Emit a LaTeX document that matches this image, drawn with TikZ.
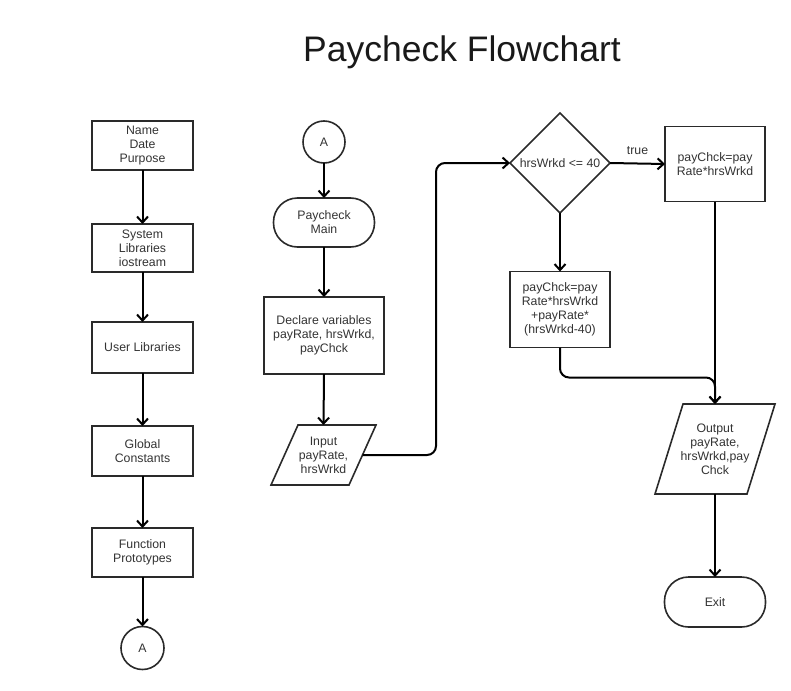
\documentclass[tikz,border=0pt]{standalone}
\usepackage{fontspec}
\setmainfont{Liberation Sans}
\usetikzlibrary{arrows.meta,shapes.geometric}
\definecolor{ink}{HTML}{333333}
\definecolor{edge}{HTML}{2A2A2A}
\begin{document}
\begin{tikzpicture}[x=1pt,y=-1pt,
  txt/.style={font=\fontsize{12.3}{14}\selectfont, text=ink, align=center},
  box/.style={txt, draw=edge, line width=1.6pt, inner sep=0pt, outer sep=0pt},
  proc/.style={box, rectangle, minimum width=#1},
  proc/.default=101,
  term/.style={box, rectangle, rounded corners=24pt},
  conn/.style={box, circle, minimum size=43pt},
  decide/.style={box, diamond, minimum width=100pt, minimum height=100pt},
  ioslot/.style={txt, inner sep=0pt, outer sep=0pt},
  ioframe/.style={draw=edge, line width=1.6pt, line join=miter},
  arr/.style={draw=black, line width=2pt, rounded corners=9pt,
    -{Straight Barb[length=6pt,width=11pt,line width=2pt]}}]
\useasboundingbox (0,0) rectangle (791,690);

% title
\node[font=\fontsize{35.5}{42}\selectfont, text=black!90] (title) at (462,52) {Paycheck Flowchart};

% preamble column
\node[proc, minimum height=49pt] (hdr) at (142.5,145.5) {Name\\Date\\Purpose};
\node[proc, minimum height=48pt] (sys) at (142.5,248) {System\\Libraries\\iostream};
\node[proc, minimum height=51pt] (usr) at (142.5,347.5) {User Libraries};
\node[proc, minimum height=50pt] (glb) at (142.5,451) {Global\\Constants};
\node[proc, minimum height=49pt] (fnp) at (142.5,552.5) {Function\\Prototypes};
\node[conn] (outA) at (142.5,648) {A};

\draw[arr] (hdr.south) -- (sys.north);
\draw[arr] (sys.south) -- (usr.north);
\draw[arr] (usr.south) -- (glb.north);
\draw[arr] (glb.south) -- (fnp.north);
\draw[arr] (fnp.south) -- (outA.north);

% main column
\node[conn, minimum size=42pt] (inA) at (324,142) {A};
\node[term, minimum width=101pt, minimum height=49pt] (main) at (324,222.5) {Paycheck\\Main};
\node[proc=120, minimum height=77pt] (decl) at (324,335.5) {Declare variables\\payRate, hrsWrkd,\\payChck};
\node[ioslot, minimum width=78pt, minimum height=60pt] (inp) at (323.5,455) {Input\\payRate,\\hrsWrkd};
\draw[ioframe] ([xshift=13.5]inp.north west) -- ([xshift=13.5]inp.north east)
  -- ([xshift=-13.5]inp.south east) -- ([xshift=-13.5]inp.south west) -- cycle;

\draw[arr] (inA.south) -- (main.north);
\draw[arr] (main.south) -- (decl.north);
\draw[arr] (decl.south) -- (inp.north);

% decision and computation
\node[decide] (test) at (560,163) {hrsWrkd <= 40};
\node[proc=100, minimum height=75pt] (flat) at (715,164) {payChck=pay\\Rate*hrsWrkd};
\node[proc=100, minimum height=76pt] (ovt) at (560,309.5) {payChck=pay\\Rate*hrsWrkd\\+payRate*\\(hrsWrkd-40)};
\node[ioslot, minimum width=92pt, minimum height=90pt] (outp) at (715,449) {Output\\payRate,\\hrsWrkd,pay\\Chck};
\draw[ioframe] ([xshift=14]outp.north west) -- ([xshift=14]outp.north east)
  -- ([xshift=-14]outp.south east) -- ([xshift=-14]outp.south west) -- cycle;
\node[term, minimum width=101pt, minimum height=50pt] (exit) at (715,602) {Exit};

\draw[arr] (inp.east) -| ([xshift=-74]test.west) -- (test.west);
\draw[arr] (test.east) -- node[txt, above=5pt] (tlab) {true} (flat.west);
\draw[arr] (test.south) -- (ovt.north);
\draw[arr] (flat.south) -- (outp.north);
\draw[arr] (ovt.south) -- ++(0,30) -| (outp.north);
\draw[arr] (outp.south) -- (exit.north);
\end{tikzpicture}
\end{document}
